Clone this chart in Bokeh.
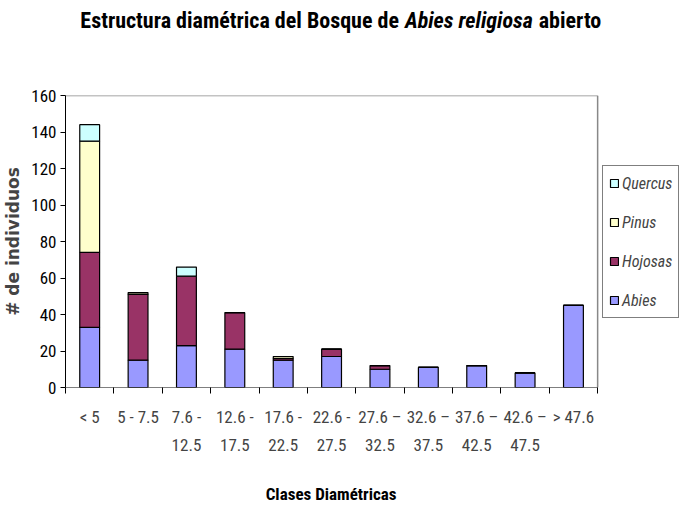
from bokeh.plotting import figure
from bokeh.layouts import column
from bokeh.models import (FixedTicker, LinearAxis, Legend, LegendItem,
                          ColumnDataSource, Range1d)
from bokeh.core.properties import value
from bokeh.embed import file_html
from bokeh.resources import INLINE

categories = ["< 5", "5 - 7.5", "7.6 -", "12.6 -", "17.6 -", "22.6 -",
              "27.6 \u2013", "32.6 \u2013", "37.6 \u2013", "42.6 \u2013", "> 47.6"]
categories_line2 = ["", "", "12.5", "17.5", "22.5", "27.5",
                    "32.5", "37.5", "42.5", "47.5", ""]
abies = [33, 15, 23, 21, 15, 17, 10, 11, 12, 8, 45]
hojosas = [41, 36, 38, 20, 1, 4, 2, 0, 0, 0, 0]
pinus = [61, 1, 0, 0, 1, 0, 0, 0, 0, 0, 0]
quercus = [9, 0, 5, 0, 0, 0, 0, 0, 0, 0, 0]
series = ["Abies", "Hojosas", "Pinus", "Quercus"]
colors = ["#9999FF", "#993366", "#FFFFCC", "#CCFFFF"]
y_ticks = [0, 20, 40, 60, 80, 100, 120, 140, 160]
title_parts = ["Estructura diam\u00e9trica del Bosque de", "Abies religiosa", "abierto"]
x_title = "Clases Diam\u00e9tricas"
y_title = "# de individuos"

FONT = "Roboto Condensed, Liberation Sans"
W = 683
LEFT = 64          # width of the y-axis panel
PLOT_W = 533       # width of the category area
TITLE_H = 83
TOP = 12
FRAME_H = 292
BOTTOM = 72
XTITLE_H = 44


def strip(height):
    s = figure(width=W, height=height, output_backend="svg", toolbar_location=None,
               title=None, x_range=Range1d(LEFT, W), y_range=Range1d(0, height),
               min_border_left=LEFT, min_border_right=0, min_border_top=0,
               min_border_bottom=0, x_axis_type=None, y_axis_type=None)
    s.outline_line_color = None
    s.xgrid.visible = False
    s.ygrid.visible = False
    return s


# ---------- title strip (pixel-like coordinates) ----------
t = strip(TITLE_H)
ty = TITLE_H - 20
for txt, xx, align, style in [(title_parts[0], 398, "right", "bold"),
                              (title_parts[1], 468, "center", "bold italic"),
                              (title_parts[2], 538, "left", "bold")]:
    t.text(x=[xx], y=[ty], text=[txt], text_align=align, text_baseline="middle",
           text_font=value(FONT), text_font_style=style, text_font_size="22px",
           text_color="black")

# ---------- main chart ----------
n = len(categories)
centers = [i + 0.5 for i in range(n)]
source = ColumnDataSource(dict(x=centers, Abies=abies, Hojosas=hojosas,
                               Pinus=pinus, Quercus=quercus))
x_end = n * (W - LEFT) / PLOT_W
y_top = y_ticks[-1]

p = figure(width=W, height=TOP + FRAME_H + BOTTOM, output_backend="svg",
           toolbar_location=None, title=None,
           x_range=Range1d(0, x_end), y_range=Range1d(0, y_top),
           min_border_left=LEFT, min_border_top=TOP, min_border_bottom=BOTTOM,
           min_border_right=0, x_axis_type=None)
p.outline_line_color = None
p.xgrid.visible = False
p.ygrid.visible = False

rs = p.vbar_stack(series, x="x", width=0.41, source=source, color=colors,
                  line_color="black", line_width=1.2)

# plot-area border: grey top and right, black bottom (x axis line)
p.segment(x0=[0, n], y0=[y_top, 0], x1=[n, n], y1=[y_top, y_top],
          line_color="#888888", line_width=1.5)
p.segment(x0=[0], y0=[0], x1=[n], y1=[0], line_color="black", line_width=1.2)

# y axis
p.yaxis.ticker = FixedTicker(ticks=y_ticks)
p.yaxis.axis_line_color = "black"
p.yaxis.major_tick_out = 5
p.yaxis.major_tick_in = 0
p.yaxis.minor_tick_out = 0
p.yaxis.minor_tick_in = 0
p.yaxis.major_label_text_font = FONT
p.yaxis.major_label_text_font_size = "17px"
p.yaxis.major_label_text_color = "black"
p.yaxis.major_label_standoff = 4
p.yaxis.axis_label = y_title
p.yaxis.axis_label_text_font = "DejaVu Sans"
p.yaxis.axis_label_text_font_style = "bold"
p.yaxis.axis_label_text_font_size = "17px"
p.yaxis.axis_label_standoff = 5

# x axis, line 1 with boundary ticks
ax1 = LinearAxis(ticker=FixedTicker(ticks=centers, minor_ticks=list(range(n + 1))))
ax1.major_label_overrides = {c: s for c, s in zip(centers, categories)}
ax1.major_tick_out = 0
ax1.major_tick_in = 0
ax1.minor_tick_out = 6
ax1.minor_tick_in = 0
ax1.axis_line_color = None
ax1.minor_tick_line_color = "black"
ax1.major_label_text_font = FONT
ax1.major_label_text_font_size = "17px"
ax1.major_label_standoff = 13
p.add_layout(ax1, "below")

# x axis, line 2 of the category labels
ax2 = LinearAxis(ticker=FixedTicker(ticks=centers))
ax2.major_label_overrides = {c: s for c, s in zip(centers, categories_line2)}
ax2.major_tick_out = 0
ax2.major_tick_in = 0
ax2.minor_tick_out = 0
ax2.axis_line_color = None
ax2.major_label_text_font = FONT
ax2.major_label_text_font_size = "17px"
ax2.major_label_standoff = 9
p.add_layout(ax2, "below")

# legend, inside the (wide) frame, to the right of the plot area
items = [LegendItem(label=s, renderers=[r]) for s, r in zip(series, rs)][::-1]
legend = Legend(items=items, location=(537, 69))
legend.label_text_font = FONT
legend.label_text_font_style = "italic"
legend.label_text_font_size = "16px"
legend.glyph_width = 10
legend.glyph_height = 10
legend.label_standoff = 3
legend.label_height = 22
legend.spacing = 17
legend.padding = 6
legend.margin = 0
legend.border_line_color = "black"
legend.border_line_width = 1.2
p.add_layout(legend, "center")

# ---------- x-axis title strip ----------
b = strip(XTITLE_H)
b.text(x=[330], y=[XTITLE_H - 34], text=[x_title], text_align="center",
       text_baseline="middle", text_font=value(FONT), text_font_style="bold",
       text_font_size="17px", text_color="black")

layout = column(t, p, b, spacing=0)
open("out.html", "w").write(file_html(layout, INLINE))
